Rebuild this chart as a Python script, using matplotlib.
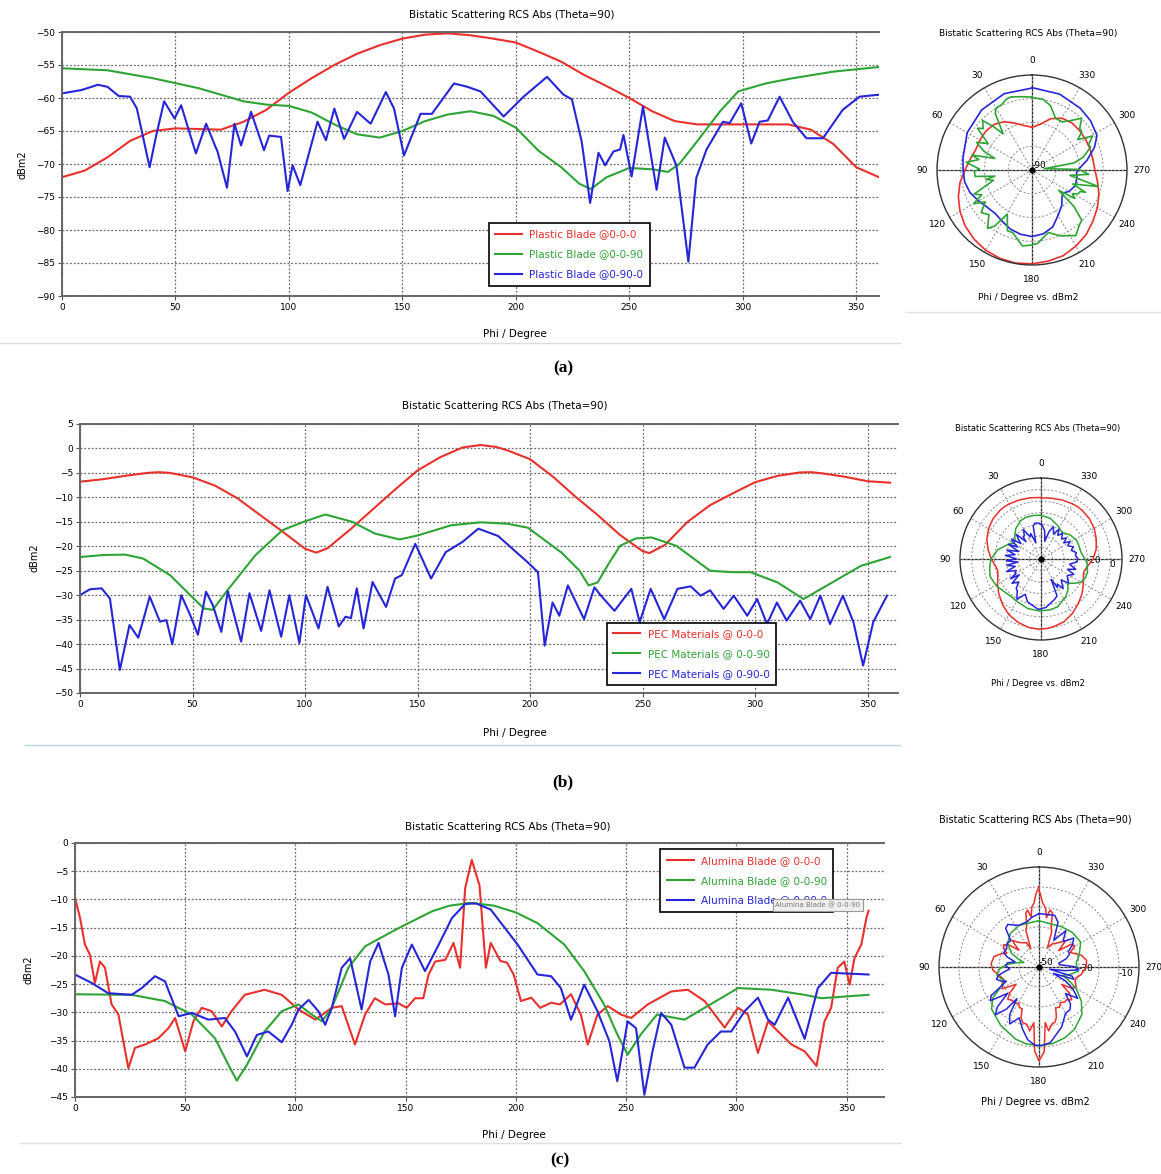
import numpy as np
import matplotlib
matplotlib.use('Agg')
import matplotlib.pyplot as plt
from matplotlib.lines import Line2D

W, H = 1161, 1174

RED = '#e8302c'
GREEN = '#2fa436'
BLUE = '#2626d8'

TITLE = 'Bistatic Scattering RCS Abs (Theta=90)'

# ---------------- (a) Plastic blade ----------------
a_red_phi = [0, 10, 20, 30, 40, 50, 60, 70, 80, 90, 100, 110, 120, 130, 140, 150, 160, 170, 180,
             190, 200, 210, 220, 230, 240, 250, 260, 270, 280, 290, 300, 310, 320, 330, 340, 350, 360]
a_red = [-72, -71, -69, -66.5, -65, -64.6, -64.7, -64.8, -63.6, -61.8, -59.2, -57, -55, -53.3, -52,
         -51, -50.4, -50.2, -50.5, -51, -51.6, -53, -54.5, -56.5, -58.2, -60, -62, -63.5, -64, -64,
         -64, -64, -64, -64.8, -67, -70.5, -72]

a_green_phi = [0, 20, 40, 60, 80, 90, 100, 110, 120, 130, 140, 150, 160, 170, 180, 190, 200, 210,
               220, 228, 233, 240, 250, 260, 267, 272, 280, 290, 298, 310, 322, 340, 360]
a_green = [-55.5, -55.8, -57, -58.5, -60.5, -61, -61.2, -62.2, -64, -65.5, -66, -65, -63.5, -62.5,
           -62, -62.7, -64.5, -68, -70.5, -73, -73.8, -72, -70.6, -70.8, -71.2, -70, -66.5, -62,
           -59, -57.8, -57, -56, -55.3]

a_blue_phi = [0, 8.5, 15.8, 20, 25, 30, 33, 38.6, 41.5, 45, 49.6, 52.5, 59, 63.5, 68.6, 72.7, 76,
              78.9, 83.3, 89, 91.3, 96.5, 99.4, 101.6, 105, 112.6, 116.3, 120, 124.3, 130, 136,
              142.7, 146.3, 150.7, 158, 163, 172.7, 178.6, 184.4, 194.6, 203.4, 213.7, 221, 224.7,
              229, 232.7, 236.4, 239.3, 243, 245.9, 247.4, 251, 256, 262, 265.6, 270.7, 276, 279.5,
              284, 291.2, 294.2, 299.3, 303.7, 307.4, 311, 316.2, 322, 328, 335.3, 344, 351.4, 360]
a_blue = [-59.3, -58.8, -58, -58.3, -59.7, -59.8, -61.6, -70.5, -65.7, -60.5, -63.1, -61.1, -68.4,
          -63.9, -68.2, -73.6, -63.9, -67.2, -62.1, -67.9, -65.7, -65.9, -74.1, -70.2, -73.2,
          -63.6, -66.4, -61.6, -66.2, -62.1, -63.9, -59.1, -61.6, -68.7, -62.4, -62.4, -57.8,
          -58.3, -59, -62.8, -59.8, -56.8, -59.5, -60.2, -66.6, -75.9, -68.3, -70.2, -68.1,
          -67.8, -65.6, -71.9, -61.3, -73.9, -66, -70.2, -84.8, -72.1, -67.8, -63.6, -63.8,
          -60.8, -66.9, -63.6, -63.4, -59.8, -63.6, -66.1, -66.1, -61.8, -59.8, -59.5]

a_labels = ['Plastic Blade @0-0-0', 'Plastic Blade @0-0-90', 'Plastic Blade @0-90-0']

# ---------------- (b) PEC ----------------
b_red_phi = [0, 10, 20, 30, 35, 40, 50, 60, 70, 80, 90, 100, 105, 110, 120, 130, 140, 150, 160,
             170, 178, 185, 190, 200, 210, 220, 230, 240, 250, 253, 260, 270, 280, 290, 300, 310,
             320, 325, 330, 340, 350, 360]
b_red = [-6.8, -6.3, -5.6, -5, -4.85, -5, -5.9, -7.6, -10.2, -13.6, -17, -20.5, -21.3, -20.4,
         -16.6, -12.5, -8.4, -4.5, -1.8, 0.2, 0.7, 0.3, -0.4, -2.2, -5.7, -9.8, -13.6, -17.7, -21,
         -21.4, -19.7, -15, -11.6, -9.2, -6.9, -5.6, -4.9, -4.85, -5.1, -5.8, -6.7, -7]

b_green_phi = [0, 10, 20, 28, 40, 49, 55, 59, 65, 78, 90, 100, 109, 121, 131, 142, 150, 165, 178,
               190, 199, 214, 222, 226, 230, 235, 240, 247, 254, 265, 280, 290, 298, 310, 321.5,
               332, 347, 360]
b_green = [-22.2, -21.8, -21.7, -22.5, -25.9, -30, -32.7, -33, -29.3, -21.8, -16.7, -14.9, -13.5,
           -15, -17.4, -18.6, -17.8, -15.7, -15.1, -15.4, -16.2, -21.3, -25, -28, -27.4, -23.5,
           -19.9, -18.4, -18.2, -19.9, -25, -25.3, -25.3, -27.4, -30.8, -28, -24, -22.2]

b_blue_phi = [0, 4.4, 9.6, 13.3, 17.7, 22, 25.9, 31, 35.5, 38.4, 41, 45, 49, 52.4, 56, 59, 62.8,
              65.7, 71.6, 75.3, 80.5, 84.2, 89.4, 93, 97.5, 100.4, 106, 110, 115, 118, 120.4, 123,
              126, 130, 136, 140, 143, 149, 156, 162.5, 170, 177, 185.8, 199, 203.5, 206.5, 210,
              213, 216.8, 224, 228.6, 231.5, 237.5, 245, 248.7, 253.6, 259.6, 265.5, 271.4, 275.8,
              280, 286, 290.5, 296.5, 300.9, 305.3, 309.7, 314, 320, 324.5, 329, 333.3, 339,
              343.7, 348, 352.5, 358.6]
b_blue = [-30, -28.8, -28.6, -30.7, -45.3, -36.1, -38.7, -30.3, -35.4, -35.1, -40, -30, -34.1,
          -38.1, -29.3, -32, -37.5, -29.2, -39.5, -29.6, -37.3, -29, -38.5, -30, -39.8, -30, -36.8,
          -28.3, -36.4, -34.4, -34.7, -28.6, -36.8, -27.3, -32.4, -26.6, -25.9, -19.5, -26.6,
          -21.2, -19.1, -16.4, -17.9, -23.3, -25.3, -40.3, -31.5, -34.2, -28, -34.9, -28.4, -30.1,
          -33.2, -28.7, -35.5, -28.7, -34.9, -28.7, -28.2, -30.1, -29, -32.8, -30.1, -34.2,
          -30.8, -35.9, -31.5, -35.2, -31.1, -34.9, -30.1, -35.9, -30.1, -35.5, -44.4, -35.5,
          -30.1]

b_labels = ['PEC Materials @ 0-0-0', 'PEC Materials @ 0-0-90', 'PEC Materials @ 0-90-0']

# ---------------- (c) Alumina ----------------
c_red_phi = [0, 2.3, 4.5, 6.8, 9, 11.3, 13.6, 16.6, 19.7, 24.2, 27.2, 31.8, 37.8, 42.4, 45.4, 50,
             53.7, 57.5, 62, 66.6, 71, 77, 86, 93.8, 101.4, 109, 116.5, 121, 127, 131.6, 136,
             140.7, 146.7, 150.5, 154.3, 158, 160.4, 163.4, 168, 171.7, 174.7, 177, 180, 183.5,
             186.4, 188.6, 193, 196, 199, 202.3, 207, 211, 216, 220, 225, 229.5, 232.6, 237,
             241.7, 247.7, 252.3, 259.8, 270.5, 278, 285.6, 294.7, 300.8, 305.3, 309.8, 314.4,
             319, 325, 331, 336.4, 340, 343, 346, 349, 351.4, 353.6, 356.7, 359, 360]
c_red = [-9.7, -13.3, -18, -19.8, -24.8, -21, -22.1, -28.6, -30.4, -39.9, -36.3, -35.7, -34.6,
         -32.8, -31, -36.9, -31.6, -29.2, -29.8, -32.5, -29.8, -26.9, -26, -26.9, -29.5, -31.3,
         -29.2, -28.9, -35.7, -30.4, -27.5, -28.6, -28.4, -29.2, -27.5, -27.5, -23.3, -21, -20.7,
         -17.7, -22.1, -8, -3, -7.5, -22.1, -17.7, -20.9, -21.2, -23.3, -28, -27.4, -29.2, -28.3,
         -28.6, -26.8, -30.4, -35.7, -30.4, -28.9, -30.4, -31, -28.6, -26.3, -26, -28, -32.7,
         -29.2, -30.4, -37.2, -31.6, -33.4, -35.7, -36.9, -39.5, -31.6, -29.2, -22.1, -21, -25.1,
         -20.4, -18, -13.3, -12]

c_green_phi = [0, 25.7, 40.8, 53, 63.5, 69.6, 73.4, 78, 86, 93.8, 101.4, 107.4, 112, 116.5, 124,
               131.6, 146.7, 162, 170, 179.5, 190, 200, 209.8, 222, 231, 240, 246, 250.7, 256.7,
               264, 276.5, 285.6, 300.8, 316, 331, 338.6, 360]
c_green = [-26.8, -26.9, -28, -30.4, -34.6, -39.3, -42.1, -39.3, -33.4, -29.8, -28.6, -30.4, -31.6,
           -29.2, -22.1, -18.3, -15.1, -12.1, -11.1, -10.6, -11.1, -12.3, -14.2, -18, -22.7,
           -28.6, -33.9, -37.5, -33.9, -30.4, -31.3, -29.2, -25.7, -26, -26.9, -27.5, -26.9]

c_blue_phi = [0, 7.6, 15, 25.7, 30.3, 36.3, 40.8, 47, 53, 60.5, 68, 72.6, 78, 82.5, 87.7, 93.8,
              98.3, 101.4, 106, 110.4, 113.5, 116.5, 121, 124.8, 130, 133.9, 137.7, 142.2, 145.2,
              148.3, 152.8, 158.8, 165, 171, 177, 182, 188.6, 200.8, 209.8, 216, 220.4, 225, 231,
              237, 242.4, 246, 250.7, 254.5, 258.3, 262, 265.9, 270.5, 276.5, 281, 287, 293,
              297.7, 303.8, 309.8, 314.4, 317.4, 323.5, 331, 337, 343, 360]
c_blue = [-23.3, -24.8, -26.6, -26.9, -25.7, -23.6, -24.5, -30.7, -30.1, -31.3, -31, -33.4, -37.8,
          -34, -33.4, -35.3, -32.2, -29.5, -27.8, -29.8, -32.2, -29.2, -22.1, -20.4, -29.5, -21,
          -17.7, -23.3, -30.7, -22.1, -18, -22.7, -18, -13.3, -10.8, -10.7, -11.8, -18, -23.3,
          -23.6, -25.7, -31.3, -25.1, -29.8, -35.1, -42.2, -31.6, -32.8, -44.6, -36.9, -30.1,
          -32.2, -39.8, -39.8, -35.7, -33.4, -33.4, -29.8, -27.4, -31.3, -32.2, -27.4, -34.7,
          -25.7, -23, -23.3]

c_labels = ['Alumina Blade @ 0-0-0', 'Alumina Blade @ 0-0-90', 'Alumina Blade @ 0-90-0']


def box(x0, y0, x1, y1):
    return [x0 / W, 1 - y1 / H, (x1 - x0) / W, (y1 - y0) / H]


def ftext(x, y, s, **kw):
    fig.text(x / W, 1 - y / H, s, ha='center', va='center', **kw)


def setup_cart(ax, xmax, ylim, ystep):
    ax.set_xlim(0, xmax)
    ax.set_ylim(*ylim)
    ax.set_xticks(range(0, 351, 50))
    ax.set_yticks(np.arange(ylim[0], ylim[1] + 0.1, ystep))
    ax.grid(True, color='#6a6a6a', linestyle=(0, (1.5, 1.5)), linewidth=0.9)
    ax.tick_params(labelsize=6.5, length=3, color='#555555', pad=2)
    for s in ['top', 'bottom', 'left']:
        ax.spines[s].set_color('#666666')
        ax.spines[s].set_linewidth(1.4)
    ax.spines['right'].set_visible(False)


def cart_legend(ax, loc, anchor):
    leg = ax.legend(loc=loc, bbox_to_anchor=anchor, fontsize=7.5, fancybox=False,
                    edgecolor='black', framealpha=1, handlelength=2.6, borderpad=0.6,
                    labelspacing=0.95, handletextpad=0.7)
    leg.get_frame().set_linewidth(1.2)
    for txt, ln in zip(leg.get_texts(), leg.get_lines()):
        txt.set_color(ln.get_color())
    return leg


def setup_polar(ax, rmin, rmax, rings, rlabels, lab_angle):
    ax.set_theta_zero_location('N')
    ax.set_theta_direction(1)
    ax.set_ylim(rmin, rmax)
    ax.set_xticks(np.deg2rad(np.arange(0, 360, 30)))
    ax.set_xticklabels([str(a) for a in range(0, 360, 30)], fontsize=6.5)
    ax.set_yticks(rings)
    ax.set_yticklabels(rlabels, fontsize=6.5)
    ax.set_rlabel_position(lab_angle)
    ax.grid(True, color='#8a8a8a', linestyle=(0, (2, 2)), linewidth=0.7)
    ax.spines['polar'].set_color('#333333')
    ax.spines['polar'].set_linewidth(1.0)
    ax.tick_params(axis='x', pad=0)
    ax.vlines(np.deg2rad([0, 90, 180, 270]), rmin, rmax, color='#222222', lw=0.9, zorder=1)
    ax.plot([0], [rmin], 'o', color='black', ms=3.5, zorder=5)


fig = plt.figure(figsize=(W / 100, H / 100), dpi=100)
plt.rcParams['font.family'] = 'DejaVu Sans'

lw = 1.5

# ---- (a) cartesian
ax = fig.add_axes(box(62, 32, 879, 296))
setup_cart(ax, 360, (-90, -50), 5)
ax.plot(a_red_phi, a_red, color=RED, lw=lw, label=a_labels[0])
ax.plot(a_green_phi, a_green, color=GREEN, lw=lw, label=a_labels[1])
ax.plot(a_blue_phi, a_blue, color=BLUE, lw=lw, label=a_labels[2])
cart_legend(ax, 'lower left', (0.516, 0.02))
ftext(512, 15, TITLE, fontsize=7.5)
ftext(515, 334, 'Phi / Degree', fontsize=7.5)
ftext(22, 165, 'dBm2', fontsize=7, rotation=90)

# ---- (a) polar (colours as in the original screenshot)
pa = fig.add_axes(box(937, 74, 1127, 266), projection='polar')
setup_polar(pa, -90, -50, [-90, -80, -70, -60], ['-90', '', '', ''], 200)
pa.plot(np.deg2rad(a_red_phi), a_red, color=RED, lw=1.2)
pa.plot(np.deg2rad(a_green_phi), a_green, color=BLUE, lw=1.2)
pa.plot(np.deg2rad(a_blue_phi), a_blue, color=GREEN, lw=1.2)
ftext(1028, 33, TITLE, fontsize=6.5)
ftext(1028, 298, 'Phi / Degree vs. dBm2', fontsize=6.5)

# ---- (b) cartesian
ax = fig.add_axes(box(80, 424, 898, 693))
setup_cart(ax, 363.5, (-50, 5), 5)
ax.plot(b_red_phi, b_red, color=RED, lw=lw, label=b_labels[0])
ax.plot(b_green_phi, b_green, color=GREEN, lw=lw, label=b_labels[1])
ax.plot(b_blue_phi, b_blue, color=BLUE, lw=lw, label=b_labels[2])
cart_legend(ax, 'lower left', (0.638, 0.01))
ftext(505, 406, TITLE, fontsize=7.5)
ftext(515, 733, 'Phi / Degree', fontsize=7.5)
ftext(34, 558, 'dBm2', fontsize=7, rotation=90)

# ---- (b) polar
pb = fig.add_axes(box(960, 478, 1122, 640), projection='polar')
setup_polar(pb, -60, 10, [-50, -40, -30, -20, -10, 0], ['', '', '', '-20', '', '0'], 262)
pb.plot(np.deg2rad(b_red_phi), b_red, color=RED, lw=1.1)
pb.plot(np.deg2rad(b_green_phi), b_green, color=GREEN, lw=1.1)
pb.plot(np.deg2rad(b_blue_phi), b_blue, color=BLUE, lw=1.1)
ftext(1038, 428, TITLE, fontsize=6)
ftext(1038, 684, 'Phi / Degree vs. dBm2', fontsize=6)

# ---- (c) cartesian
ax = fig.add_axes(box(75, 843, 884, 1097))
setup_cart(ax, 367, (-45, 0), 5)
ax.plot(c_red_phi, c_red, color=RED, lw=lw, label=c_labels[0])
ax.plot(c_green_phi, c_green, color=GREEN, lw=lw, label=c_labels[1])
ax.plot(c_blue_phi, c_blue, color=BLUE, lw=lw, label=c_labels[2])
cart_legend(ax, 'upper left', (0.717, 0.995))
ax.text(0.918, 0.756, 'Alumina Blade @ 0-0-90', transform=ax.transAxes, fontsize=5,
        color='#777777', ha='center', va='center', zorder=10,
        bbox=dict(boxstyle='square,pad=0.35', fc='#efefef', ec='#999999', lw=0.8))
ftext(508, 827, TITLE, fontsize=7.5)
ftext(514, 1135, 'Phi / Degree', fontsize=7.5)
ftext(28, 970, 'dBm2', fontsize=7, rotation=90)

# ---- (c) polar
pc = fig.add_axes(box(939, 867, 1139, 1067), projection='polar')
setup_polar(pc, -50, 0, [-50, -40, -30, -20, -10], ['-50', '', '-30', '', '-10'], 262)
pc.plot(np.deg2rad(c_red_phi), c_red, color=RED, lw=1.1)
pc.plot(np.deg2rad(c_green_phi), c_green, color=GREEN, lw=1.1)
pc.plot(np.deg2rad(c_blue_phi), c_blue, color=BLUE, lw=1.1)
ftext(1035, 820, TITLE, fontsize=7)
ftext(1035, 1102, 'Phi / Degree vs. dBm2', fontsize=7)

# separator lines from the screenshots
for x0, x1, y, c in [(0, 900, 343, '#dddddd'), (905, 1161, 312, '#e4e4e4'),
                     (25, 900, 745, '#b8d4ee'), (20, 900, 1143, '#e0e0e0')]:
    fig.add_artist(Line2D([x0 / W, x1 / W], [1 - y / H] * 2, color=c, lw=1))

# captions
for x, y, s in [(563, 368, '(a)'), (563, 782, '(b)'), (560, 1160, '(c)')]:
    ftext(x, y, s, fontsize=12.5, fontweight='bold', family='Liberation Serif')

fig.savefig('out.png', dpi=100)
